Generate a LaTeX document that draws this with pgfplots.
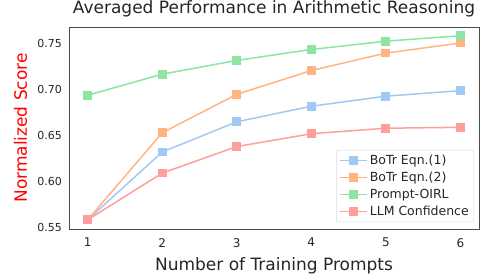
\documentclass[border=0pt]{standalone}
\usepackage{fontspec}
\setmainfont{DejaVu Sans}
\usepackage{pgfplots}
\pgfplotsset{compat=1.18}
\definecolor{pblue}{HTML}{A1C9F4}
\definecolor{porange}{HTML}{FFB482}
\definecolor{pgreen}{HTML}{8DE5A1}
\definecolor{pred}{HTML}{FF9F9B}
\definecolor{txt}{HTML}{262626}
\begin{document}
\begin{tikzpicture}[x=1pt,y=1pt]
\begin{axis}[
  at={(0pt,0pt)}, anchor=south west,
  scale only axis,
  width=410pt, height=202pt,
  xmin=0.75, xmax=6.25,
  ymin=0.548, ymax=0.7685,
  xtick={1,2,3,4,5,6},
  ytick={0.55,0.60,0.65,0.70,0.75},
  yticklabel style={/pgf/number format/fixed,/pgf/number format/precision=2,/pgf/number format/fixed zerofill},
  /pgf/number format/assume math mode=true,
  major tick length=0pt,
  axis line style={draw=black!70, line width=0.9pt},
  tick label style={text=txt},
  xticklabel style={font=\fontsize{12}{14}\selectfont, inner sep=0pt, yshift=-9pt},
  yticklabel style={font=\fontsize{11}{13}\selectfont, inner sep=0pt, xshift=-7pt},
  title={Averaged Performance in Arithmetic Reasoning},
  title style={font=\fontsize{17}{20}\selectfont, text=txt, inner sep=0pt,
    at={([yshift=7.5pt]axis description cs:0.5,1)}, anchor=base},
  xlabel={Number of Training Prompts},
  xlabel style={font=\fontsize{17}{20}\selectfont, text=txt, inner sep=0pt,
    at={([yshift=-41pt]axis description cs:0.5,0)}, anchor=base},
  ylabel={Normalized Score},
  ylabel style={font=\fontsize{17}{20}\selectfont, text=red, inner sep=0pt,
    at={([xshift=-42pt]axis description cs:0,0.5)}, anchor=base, rotate=0},
  legend style={at={([xshift=-5pt,yshift=7pt]axis description cs:1,0)}, anchor=south east,
    draw=black!15, rounded corners=2pt,
    font=\fontsize{12.5}{14}\selectfont, text=txt, row sep=2pt, inner sep=3pt},
  legend cell align=left,
  legend image code/.code={\draw[line width=1.5pt, mark repeat=2,mark phase=2] plot coordinates {(0pt,0pt)(13.5pt,0pt)(27pt,0pt)};},
  every axis plot/.append style={line width=1.5pt, mark=square*, mark size=3.6pt},
]
\addplot[pblue, mark options={fill=pblue}] coordinates {(1,0.558)(2,0.632)(3,0.665)(4,0.682)(5,0.693)(6,0.699)};
\addlegendentry{BoTr Eqn.(1)}
\addplot[porange, mark options={fill=porange}] coordinates {(1,0.558)(2,0.653)(3,0.695)(4,0.721)(5,0.740)(6,0.751)};
\addlegendentry{BoTr Eqn.(2)}
\addplot[pgreen, mark options={fill=pgreen}] coordinates {(1,0.694)(2,0.717)(3,0.732)(4,0.744)(5,0.753)(6,0.759)};
\addlegendentry{Prompt-OIRL}
\addplot[pred, mark options={fill=pred}] coordinates {(1,0.558)(2,0.609)(3,0.638)(4,0.652)(5,0.658)(6,0.659)};
\addlegendentry{LLM Confidence}
\end{axis}
\pgfresetboundingbox
\path[use as bounding box] (-69pt,-44pt) rectangle (412pt,229pt);
\end{tikzpicture}
\end{document}
